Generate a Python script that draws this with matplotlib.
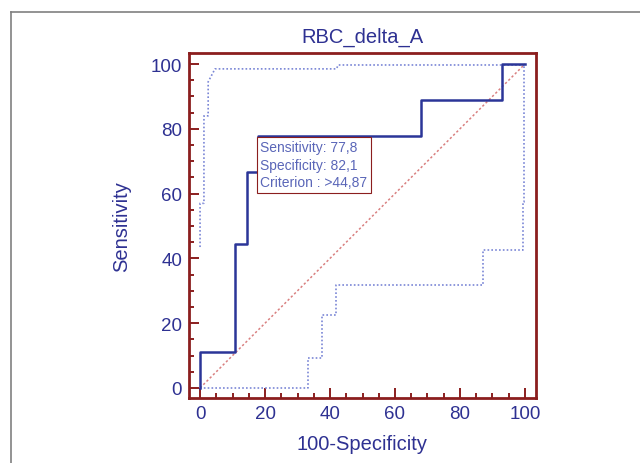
from matplotlib import pyplot as plt
from matplotlib.lines import Line2D

# ROC curve of RBC_delta_A (x = 100-Specificity, y = Sensitivity)
roc_x = [0, 0, 10.7, 10.7, 14.3, 14.3, 17.9, 17.9, 67.9, 67.9, 92.9, 92.9, 100]
roc_y = [0, 11.1, 11.1, 44.4, 44.4, 66.7, 66.7, 77.8, 77.8, 88.9, 88.9, 100, 100]

# upper / lower confidence bounds
up_x = [0, 0, 1.2, 1.2, 2.5, 2.5, 4.6, 42, 42.5, 100]
up_y = [43.5, 57, 57, 84, 84, 94.5, 98.5, 98.5, 99.7, 99.7]
lo_x = [0, 33.1, 33.1, 37.6, 37.6, 41.8, 41.8, 87, 87, 99.3, 99.3, 99.8, 99.8]
lo_y = [0, 0, 9.2, 9.2, 22.5, 22.5, 31.8, 31.8, 42.6, 42.6, 57.4, 57.4, 100]

sens = '77,8'
spec = '82,1'
crit = '>44,87'
best = (17.9, 77.8)

plt.rcParams['font.family'] = ['Liberation Sans', 'DejaVu Sans']
txt_c = '#2E3192'
frame_c = '#8B1E1E'

fig = plt.figure(figsize=(6.4, 4.64), dpi=100)
# outer grey frame of the screenshot
fig.add_artist(Line2D([11/640, 11/640], [0, 1 - 13/464], color='#808080', lw=1.2))
fig.add_artist(Line2D([11/640, 1], [1 - 13/464, 1 - 13/464], color='#808080', lw=1.2))

ax = fig.add_axes([189/640, 1 - 399/464, 347/640, 345/464])
ax.plot([0, 100], [0, 100], color='#D98080', lw=1.1, ls=(0, (1.5, 1.5)))
ax.plot(up_x, up_y, color='#7A86D6', lw=1.2, ls=(0, (1, 1.3)))
ax.plot(lo_x, lo_y, color='#7A86D6', lw=1.2, ls=(0, (1, 1.3)))
ax.plot(roc_x, roc_y, color='#2B3598', lw=1.8)

ax.text(best[0] + 0.6, best[1] - 1.4,
        'Sensitivity: {}\nSpecificity: {}\nCriterion : {}'.format(sens, spec, crit),
        ha='left', va='top', fontsize=10, color='#5A66B8', linespacing=1.3,
        bbox=dict(boxstyle='square,pad=0.25', fc='white', ec=frame_c, lw=0.8))

ax.set_xlim(-3.4, 103.4)
ax.set_ylim(-3.1, 103.4)
ax.set_xticks(range(0, 101, 20))
ax.set_yticks(range(0, 101, 20))
ax.set_xticks(range(0, 101, 5), minor=True)
ax.set_yticks(range(0, 101, 5), minor=True)
ax.tick_params(which='both', direction='in', color=frame_c, width=1.4,
               labelcolor=txt_c, labelsize=13.5, top=False, right=False, pad=5)
ax.tick_params(which='major', length=7)
ax.tick_params(which='minor', length=3.5)
for s in ax.spines.values():
    s.set_color(frame_c)
    s.set_linewidth(2)

ax.text(0.5, (399 - 37) / 345, 'RBC_delta_A', transform=ax.transAxes,
        ha='center', va='center', color=txt_c, fontsize=14.5)
ax.set_xlabel('100-Specificity', color=txt_c, fontsize=14.5, va='center')
ax.set_ylabel('Sensitivity', color=txt_c, fontsize=14.5, va='center')
ax.xaxis.set_label_coords(0.5, (399 - 445) / 345)
ax.yaxis.set_label_coords((122 - 189) / 347, 0.5)

fig.savefig('out.png', dpi=100)
